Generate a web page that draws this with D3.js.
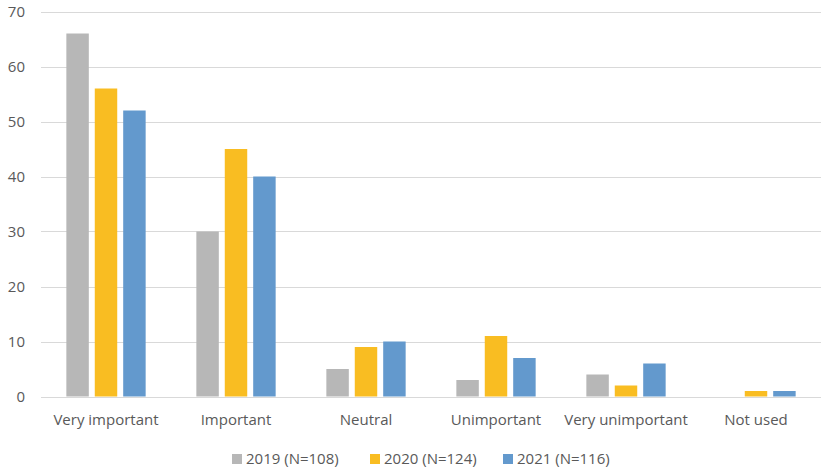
<!DOCTYPE html>
<html><head><meta charset="utf-8">
<script src="https://cdn.jsdelivr.net/npm/d3@7"></script>
<style>
body{margin:0;background:#fff;}
text{font-family:"Open Sans","Liberation Sans",sans-serif;fill:#595959;}
</style></head>
<body><svg id="c" width="821" height="470"></svg>
<script>
const categories = ["Very important","Important","Neutral","Unimportant","Very unimportant","Not used"];
const seriesNames = ["2019 (N=108)","2020 (N=124)","2021 (N=116)"];
const values2019 = [66,30,5,3,4,0];
const values2020 = [56,45,9,11,2,1];
const values2021 = [52,40,10,7,6,1];
const yTicks = [0,10,20,30,40,50,60,70];
const colors = ["#b7b7b7","#f9bd22","#6399cd"];

const series = [values2019, values2020, values2021];
const svg = d3.select("#c");
const y = d3.scaleLinear().domain([0,70]).range([396.5,11.5]);
const x0 = d3.scaleBand().domain(categories).range([41,821]).paddingInner(0.39).paddingOuter(0.195);
const x1 = d3.scaleBand().domain(d3.range(3)).range([0,x0.bandwidth()]).paddingInner(0.21).paddingOuter(0);

// grid
svg.append("g").selectAll("line").data(yTicks).join("line")
  .attr("x1",41).attr("x2",821)
  .attr("y1",d=>Math.round(y(d))+0.5).attr("y2",d=>Math.round(y(d))+0.5)
  .attr("stroke","#d9d9d9").attr("stroke-width",1);
// y labels
svg.append("g").selectAll("text").data(yTicks).join("text")
  .attr("x",25).attr("y",d=>y(d)).attr("dy","0.35em")
  .attr("text-anchor","end").attr("font-size",15).text(d=>d);

// bars
const g = svg.append("g");
categories.forEach((c,i)=>{
  series.forEach((s,k)=>{
    if(s[i]>0) g.append("rect")
      .attr("x",x0(c)+x1(k)).attr("width",x1.bandwidth())
      .attr("y",y(s[i])).attr("height",y(0)-y(s[i]))
      .attr("fill",colors[k]);
  });
});
// category labels
svg.append("g").selectAll("text").data(categories).join("text")
  .attr("x",d=>x0(d)+x0.bandwidth()/2).attr("y",420).attr("dy","0.35em")
  .attr("text-anchor","middle").attr("font-size",15).text(d=>d);

// legend
const legX = [232,370,503];
const lg = svg.append("g");
seriesNames.forEach((n,k)=>{
  lg.append("rect").attr("x",legX[k]).attr("y",454).attr("width",10).attr("height",10).attr("fill",colors[k]);
  lg.append("text").attr("x",legX[k]+14).attr("y",459).attr("dy","0.35em").attr("font-size",15).text(n);
});
</script></body></html>
